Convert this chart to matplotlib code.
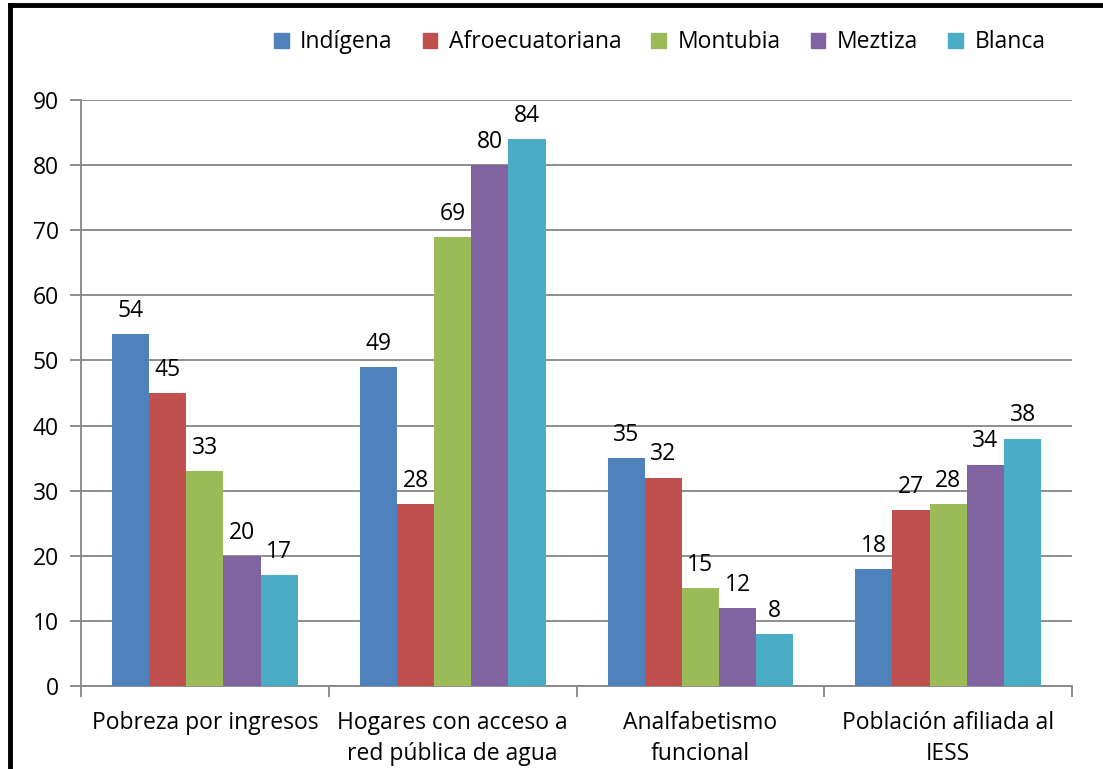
import numpy as np
import matplotlib
matplotlib.use("Agg")
import matplotlib.pyplot as plt
from matplotlib.patches import Rectangle
from matplotlib.lines import Line2D

plt.rcParams['font.family'] = ['Open Sans', 'DejaVu Sans']

categorias = ["Pobreza por ingresos", "Hogares con acceso a\nred pública de agua",
              "Analfabetismo\nfuncional", "Población afiliada al\nIESS"]
series = ["Indígena", "Afroecuatoriana", "Montubia", "Meztiza", "Blanca"]
indigena = [54, 49, 35, 18]
afro = [45, 28, 32, 27]
montubia = [33, 69, 15, 28]
meztiza = [20, 80, 12, 34]
blanca = [17, 84, 8, 38]
colores = ["#4F81BD", "#C0504D", "#9BBB59", "#8064A2", "#4BACC6"]

valores = [indigena, afro, montubia, meztiza, blanca]

fig = plt.figure(figsize=(11.03, 7.69), dpi=100)
ax = fig.add_axes([0.0734, 0.108, 0.8986, 0.762])

fs = 16.5
x = np.arange(len(categorias))
w = 0.15
for i, (nombre, vals) in enumerate(zip(series, valores)):
    pos = x + (i - 2) * w
    bars = ax.bar(pos, vals, w, color=colores[i], label=nombre, zorder=3)
    for b, v in zip(bars, vals):
        ax.annotate(str(v), (b.get_x() + b.get_width() / 2, v),
                    xytext=(0, 8), textcoords="offset points",
                    ha="center", va="bottom", fontsize=fs)

ax.set_xlim(-0.5, len(categorias) - 0.5)
ax.set_ylim(0, 90)
ax.set_yticks(range(0, 91, 10))
ax.yaxis.grid(True, color="#868686", linewidth=1.3, zorder=0)
ax.set_axisbelow(True)
ax.set_xticks(x)
ax.set_xticklabels(categorias, fontsize=fs, linespacing=1.4)
ax.set_xticks(np.arange(-0.5, len(categorias), 1), minor=True)
ax.tick_params(axis="x", which="major", length=0, pad=18)
ax.tick_params(axis="x", which="minor", length=8, color="#868686", width=1.3)
ax.tick_params(axis="y", length=8, color="#868686", width=1.3, labelsize=fs, pad=8)
for s in ["top", "right"]:
    ax.spines[s].set_visible(False)
for s in ["left", "bottom"]:
    ax.spines[s].set_color("#868686")
    ax.spines[s].set_linewidth(1.3)

handles = [Rectangle((0, 0), 1, 1, color=c) for c in colores]
fig.legend(handles, series, loc="center", bbox_to_anchor=(0.598, 0.945), ncol=5,
           frameon=False, fontsize=fs, handlelength=0.65, handleheight=0.65,
           handletextpad=0.5, columnspacing=1.3)

# marco (solo bordes superior e izquierdo visibles)
fig.add_artist(Line2D([0.009, 0.009], [0, 0.993], transform=fig.transFigure,
                      color="black", linewidth=3.5))
fig.add_artist(Line2D([0.009, 1.0], [0.993, 0.993], transform=fig.transFigure,
                      color="black", linewidth=3.5))

fig.savefig("out.png", dpi=100)
